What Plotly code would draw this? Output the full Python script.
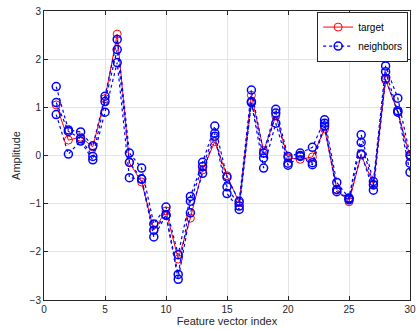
import plotly.graph_objects as go

x_index = list(range(1, 31))
target = [1.05, 0.32, 0.38, 0.18, 1.18, 2.52, -0.15, -0.55, -1.55, -1.15,
          -2.15, -1.3, -0.3, 0.29, -0.42, -0.98, 1.25, 0.1, 0.82, -0.05,
          -0.08, -0.03, 0.55, -0.7, -0.96, 0.01, -0.6, 1.57, 0.9, -0.02]
neighbor1 = [1.43, 0.53, 0.49, 0.2, 1.23, 2.41, 0.05, -0.26, -1.42, -1.07,
             -2.06, -0.85, -0.14, 0.61, -0.45, -0.95, 1.36, 0.05, 0.96, -0.02,
             0.05, 0.17, 0.74, -0.56, -0.88, 0.43, -0.54, 1.86, 1.19, 0.01]
neighbor2 = [1.1, 0.5, 0.35, -0.02, 1.12, 2.2, -0.14, -0.49, -1.55, -1.24,
             -2.47, -0.95, -0.23, 0.46, -0.65, -1.05, 1.12, -0.05, 0.88, -0.16,
             0.0, -0.15, 0.67, -0.71, -0.9, 0.27, -0.61, 1.74, 0.93, -0.16]
neighbor3 = [0.85, 0.03, 0.3, -0.09, 0.9, 1.93, -0.46, -0.49, -1.69, -1.24,
             -2.57, -1.19, -0.37, 0.4, -0.79, -1.12, 1.1, -0.26, 0.67, -0.2,
             -0.02, -0.19, 0.61, -0.75, -0.92, 0.03, -0.72, 1.6, 0.9, -0.35]
neighbors = [neighbor1, neighbor2, neighbor3]

fig = go.Figure()
fig.add_trace(go.Scatter(
    x=x_index, y=target, mode="lines+markers", name="target",
    line=dict(color="#ff0000", width=1),
    marker=dict(symbol="circle-open", size=8, color="#ff0000", line=dict(width=1)),
))
for i, nb in enumerate(neighbors):
    fig.add_trace(go.Scatter(
        x=x_index, y=nb, mode="lines+markers", name="neighbors",
        showlegend=(i == 0), legendgroup="nb",
        line=dict(color="#0000ff", width=1.2, dash="dot"),
        marker=dict(symbol="circle-open", size=8, color="#0000ff", line=dict(width=1.5)),
    ))

font_family = "Liberation Sans, Arial"
axis_common = dict(
    showline=True, linecolor="#262626", linewidth=1, mirror="ticks",
    ticks="inside", ticklen=4, tickcolor="#262626",
    showgrid=True, gridcolor="#e3e3e3", gridwidth=1, zeroline=False,
    automargin=False,
    tickfont=dict(family=font_family, size=10, color="#262626"),
)
fig.update_xaxes(range=[0, 30], tickvals=[0, 5, 10, 15, 20, 25, 30],
                 title=dict(text="Feature vector index", standoff=2,
                            font=dict(family=font_family, size=11, color="#262626")),
                 **axis_common)
fig.update_yaxes(range=[-3, 3], tickvals=[-3, -2, -1, 0, 1, 2, 3],
                 title=dict(text="Amplitude", standoff=6,
                            font=dict(family=font_family, size=11, color="#262626")),
                 **axis_common)

fig.update_layout(
    width=419, height=329,
    margin=dict(l=44, r=9, t=11, b=29, autoexpand=False),
    plot_bgcolor="white", paper_bgcolor="white",
    legend=dict(x=0.995, y=0.998, xanchor="right", yanchor="top",
                bgcolor="white", bordercolor="#262626", borderwidth=1,
                font=dict(family=font_family, size=10, color="#000000"),
                itemwidth=30, tracegroupgap=0),
    showlegend=True,
)
fig.write_html("out.html")
